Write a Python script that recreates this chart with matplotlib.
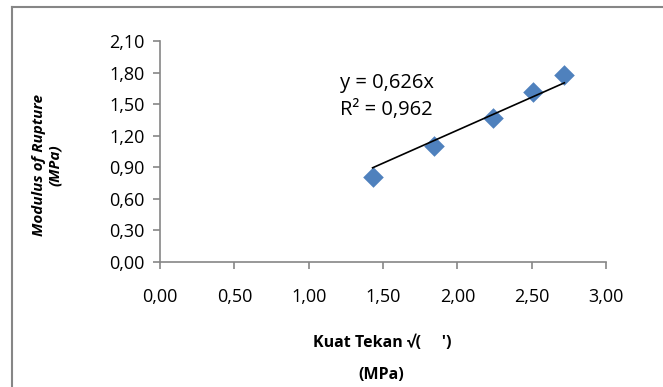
import matplotlib
matplotlib.use("Agg")
import matplotlib.pyplot as plt
from matplotlib.lines import Line2D
from matplotlib.ticker import FuncFormatter
import numpy as np

# Data
kuat_tekan = [1.43, 1.84, 2.24, 2.51, 2.72]
mor = [0.81, 1.10, 1.37, 1.62, 1.78]
slope = 0.626
r2 = 0.962

plt.rcParams['font.family'] = ['Open Sans', 'DejaVu Sans']

fig = plt.figure(figsize=(6.63, 3.87), dpi=100)
ax = fig.add_axes([0.2413, 0.323, 0.6727, 0.571])

ax.scatter(kuat_tekan, mor, marker='D', s=110, color='#4F81BD', zorder=3, linewidths=0)
xt = np.array([min(kuat_tekan), max(kuat_tekan)])
ax.plot(xt, slope * xt, color='black', linewidth=1.2, zorder=4)

ax.set_xlim(0, 3.0)
ax.set_ylim(0, 2.1)
ax.set_xticks(np.arange(0, 3.01, 0.5))
ax.set_yticks(np.arange(0, 2.11, 0.3))
fmt = FuncFormatter(lambda v, p: f"{v:.2f}".replace('.', ','))
ax.xaxis.set_major_formatter(fmt)
ax.yaxis.set_major_formatter(fmt)
ax.tick_params(labelsize=13, color='#868686', length=5, width=1.2, pad=6)
ax.tick_params(axis='x', pad=14)

for s in ['top', 'right']:
    ax.spines[s].set_visible(False)
for s in ['left', 'bottom']:
    ax.spines[s].set_color('#868686')
    ax.spines[s].set_linewidth(1.2)

ax.text(1.21, 1.70, f"y = {slope:.3f}x".replace('.', ','), fontsize=14.5, va='center')
ax.text(1.21, 1.445, f"R² = {r2:.3f}".replace('.', ','), fontsize=14.5, va='center')

fig.text(47 / 663, 1 - 165 / 387, "Modulus of Rupture\n(MPa)", rotation=90,
         fontsize=11, fontweight='bold', fontstyle='italic',
         ha='center', va='center', linespacing=1.25)
fig.text(382 / 663, 1 - 343 / 387, "Kuat Tekan √(     ')", fontsize=11.5,
         fontweight='bold', ha='center', va='center')
fig.text(381 / 663, 1 - 375 / 387, "(MPa)", fontsize=11.5,
         fontweight='bold', ha='center', va='center')

# chart border
fig.add_artist(Line2D([12 / 663, 12 / 663], [0, 1 - 7 / 387], color='#868686', linewidth=1.5))
fig.add_artist(Line2D([12 / 663, 1], [1 - 7 / 387, 1 - 7 / 387], color='#868686', linewidth=1.5))

fig.savefig("out.png", dpi=100)
